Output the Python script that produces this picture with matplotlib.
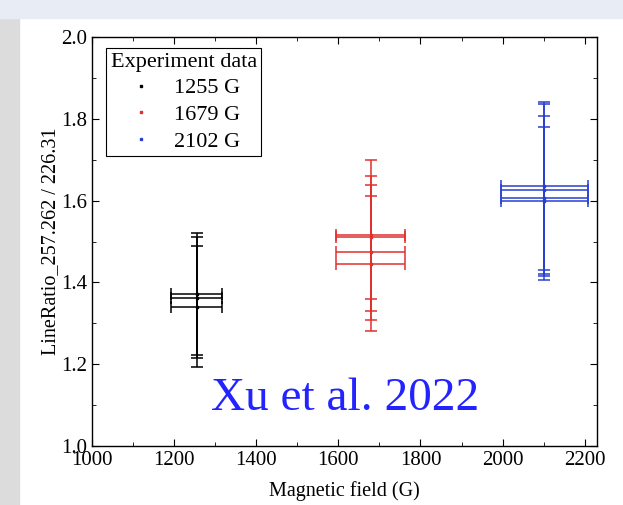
import matplotlib.pyplot as plt
from matplotlib.patches import Rectangle
from matplotlib.ticker import MultipleLocator

plt.rcParams['font.family'] = ['Liberation Serif', 'DejaVu Serif']

# Datos: campo magnético y cocientes de líneas
campos = [1255, 1679, 2102]
etiquetas = ['1255 G', '1679 G', '2102 G']
colores = ['black', '#e03030', '#2a3fd0']

ratio_1255 = [1.371, 1.363, 1.341]
err_1255 = [0.149, 0.147, 0.148]
ratio_1679 = [1.515, 1.510, 1.474, 1.446]
err_1679 = [0.185, 0.150, 0.165, 0.165]
ratio_2102 = [1.635, 1.625, 1.607, 1.600]
err_2102 = [0.205, 0.210, 0.200, 0.180]

ratios = [ratio_1255, ratio_1679, ratio_2102]
errores = [err_1255, err_1679, err_2102]
err_rel_campo = 0.05  # 5 % en el campo

fig = plt.figure(figsize=(6.23, 5.05), dpi=100)
fig.patches.append(Rectangle((0, 0), 19 / 623, 1, transform=fig.transFigure,
                             color='#dcdcdc', zorder=-1))
fig.patches.append(Rectangle((0, 1 - 18 / 505), 1, 18 / 505, transform=fig.transFigure,
                             color='#e8ecf4', zorder=-1))
ax = fig.add_axes([92 / 623, 1 - 446 / 505, 505 / 623, 409 / 505])

for campo, ys, es, color, etiqueta in zip(campos, ratios, errores, colores, etiquetas):
    xs = [campo] * len(ys)
    ax.errorbar(xs, ys, yerr=es, xerr=campo * err_rel_campo, fmt='none',
                ecolor=color, elinewidth=1.1, capsize=4, capthick=1.1)
    ax.plot(xs, ys, 's', color=color, markersize=2, linestyle='none', label=etiqueta)

ax.set_xlim(1000, 2230)
ax.set_ylim(1.0, 2.0)
ax.xaxis.set_major_locator(MultipleLocator(200))
ax.xaxis.set_minor_locator(MultipleLocator(100))
ax.yaxis.set_major_locator(MultipleLocator(0.2))
ax.yaxis.set_minor_locator(MultipleLocator(0.1))
ax.tick_params(which='both', direction='in', top=True, right=True, labelsize=15)
ax.tick_params(which='major', length=5)
ax.tick_params(which='minor', length=3)
ax.yaxis.set_major_formatter(plt.FormatStrFormatter('%.1f'))
for s in ax.spines.values():
    s.set_linewidth(1.0)

ax.set_xlabel('Magnetic field (G)', fontsize=14.5, labelpad=8)
ax.set_ylabel('LineRatio_257.262 / 226.31', fontsize=14.5, labelpad=1)

leg = ax.legend(title='Experiment data', loc='upper left', fontsize=16, title_fontsize=16,
                fancybox=False, edgecolor='black', framealpha=1, handlelength=1.2,
                borderpad=0.2, labelspacing=0.28, handletextpad=0.9,
                bbox_to_anchor=(0.006, 1.0))
leg.get_frame().set_linewidth(0.8)

ax.text(1617, 1.088, 'Xu et al. 2022', color='#2323ff', fontsize=34, ha='center', va='baseline')

fig.savefig('out.png', dpi=100)
